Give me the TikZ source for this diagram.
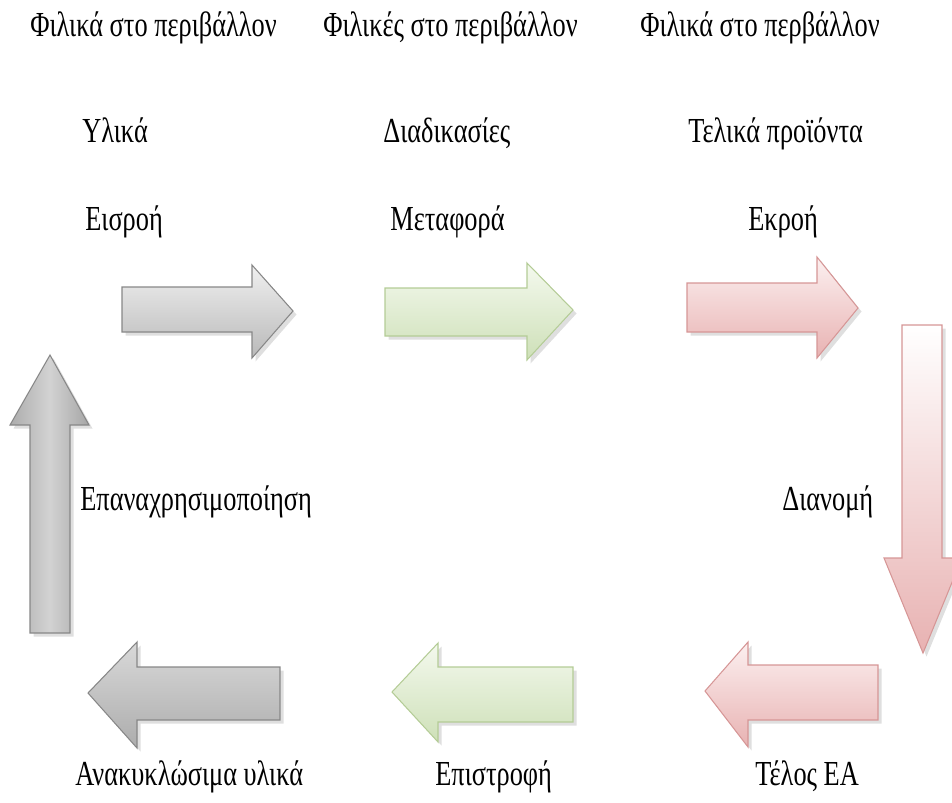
\documentclass[tikz,border=0pt]{standalone}
\usepackage{fontspec}
\setmainfont{Liberation Serif}[FakeStretch=0.75]
\usetikzlibrary{shadows}
\definecolor{grayedge}{RGB}{135,135,135}
\definecolor{greenedge}{RGB}{180,204,150}
\definecolor{rededge}{RGB}{214,150,150}
\definecolor{greenlight}{RGB}{244,249,238}
\definecolor{greendark}{RGB}{206,224,184}
\definecolor{redlight}{RGB}{252,240,240}
\definecolor{reddark}{RGB}{232,178,178}

\begin{document}
\begin{tikzpicture}[line join=miter,x=0.02cm,y=-0.02cm,
    lbl/.style={font=\fontsize{20}{24}\selectfont,inner sep=0pt},
    shade/.style={drop shadow={shadow xshift=2pt,shadow yshift=-2pt,opacity=0.25}},
    grayarrow/.style={shade,draw=grayedge,line width=0.6pt,top color=gray!12,bottom color=gray!55},
    greenarrow/.style={shade,draw=greenedge,line width=0.6pt,top color=greenlight,bottom color=greendark},
    redarrow/.style={shade,draw=rededge,line width=0.6pt,top color=redlight,bottom color=reddark}]
        \useasboundingbox (0,0) rectangle (952,802);
        \clip (0,0) rectangle (952,802);
        % top row
        \draw [grayarrow] (122,287)-- (252,287)-- (252,265)-- (293,311)-- (252,358)-- (252,332)-- (122,332)-- cycle;
        \draw [greenarrow] (385,288)-- (527,288)-- (527,263)-- (573,310)-- (527,360)-- (527,336)-- (385,336)-- cycle;
        \draw [redarrow] (687,283)-- (817,283)-- (817,257)-- (858,308)-- (817,358)-- (817,332)-- (687,332)-- cycle;
        % right column
        \draw [redarrow,top color=white,bottom color=reddark] (902,325)-- (942,325)-- (942,558)-- (962,558)-- (923,653)-- (884,558)-- (902,558)-- cycle;
        % bottom row
        \draw [redarrow] (878,665)-- (748,665)-- (748,642)-- (705,691)-- (748,747)-- (748,720)-- (878,720)-- cycle;
        \draw [greenarrow] (573,667)-- (438,667)-- (438,643)-- (392,692)-- (438,742)-- (438,722)-- (573,722)-- cycle;
        \draw [grayarrow,top color=gray!30,bottom color=gray!65] (280,667)-- (137,667)-- (137,642)-- (88,693)-- (137,748)-- (137,720)-- (280,720)-- cycle;
        % left column
        \draw [grayarrow,left color=gray!65,right color=gray!70,middle color=gray!35] (30,633)-- (30,425)-- (10,425)-- (50,355)-- (89,425)-- (70,425)-- (70,633)-- cycle;
        % labels
        \node [lbl,anchor=base west] (friendA) at (30,36) {Φιλικά στο περιβάλλον};
        \node [lbl,anchor=base west] (friendB) at (323,36) {Φιλικές στο περιβάλλον};
        \node [lbl,anchor=base west] (friendC) at (640,36) {Φιλικά στο περβάλλον};
        \node [lbl,anchor=base west] (materials) at (82,142) {Υλικά};
        \node [lbl,anchor=base west] (processes) at (383,142) {Διαδικασίες};
        \node [lbl,anchor=base west] (products) at (688,142) {Τελικά προϊόντα};
        \node [lbl,anchor=base west] (inflow) at (85,230) {Εισροή};
        \node [lbl,anchor=base west] (transport) at (390,230) {Μεταφορά};
        \node [lbl,anchor=base west] (outflow) at (748,230) {Εκροή};
        \node [lbl,anchor=base west] (reuse) at (80,510) {Επαναχρησιμοποίηση};
        \node [lbl,anchor=base west] (distrib) at (782,510) {Διανομή};
        \node [lbl,anchor=base west] (recycl) at (75,785) {Ανακυκλώσιμα υλικά};
        \node [lbl,anchor=base west] (giveback) at (435,785) {Επιστροφή};
        \node [lbl,anchor=base west] (endlife) at (755,785) {Τέλος ΕΑ};
\end{tikzpicture}
\end{document}
